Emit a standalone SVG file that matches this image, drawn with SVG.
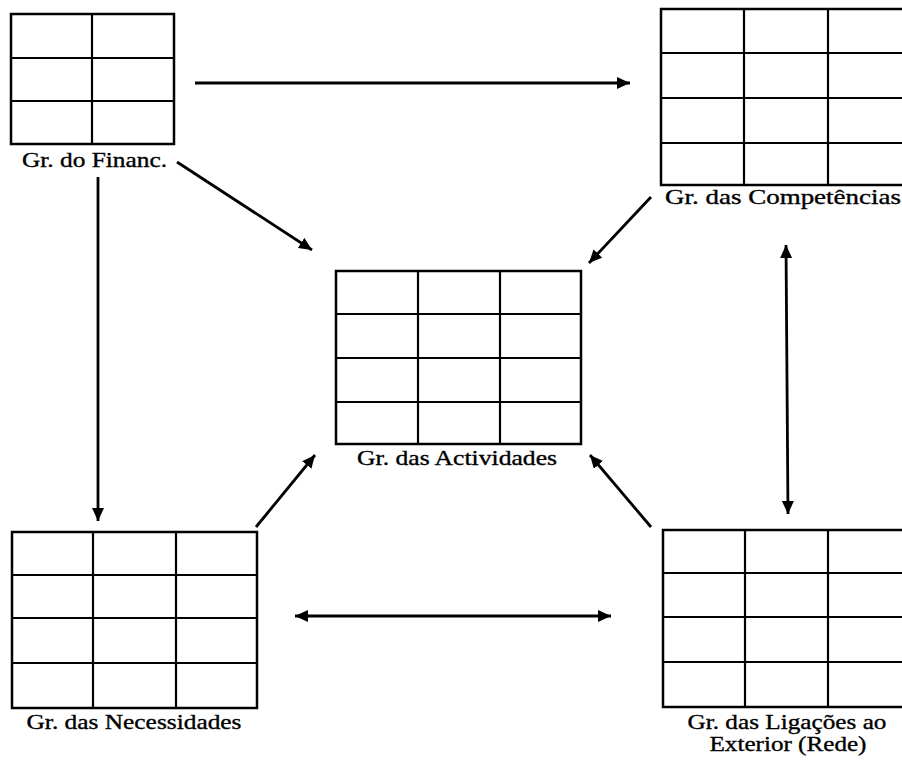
<svg xmlns="http://www.w3.org/2000/svg" width="902" height="762" viewBox="0 0 902 762">
  <style>
    .grid { fill: none; stroke: #000; stroke-width: 2.5; }
    .cell { stroke: #000; stroke-width: 2.2; }
    .lbl { font-family: "Liberation Serif", "Times New Roman", serif; font-size: 21px; fill: #000; stroke: #000; stroke-width: 0.35; text-anchor: middle; }
    .conn { stroke: #000; stroke-width: 2.8; fill: none; }
  </style>
  <defs>
    <marker id="head" markerUnits="userSpaceOnUse" markerWidth="16" markerHeight="14" refX="13" refY="6" orient="auto-start-reverse">
      <path d="M0,0 L13,6 L0,12 Z" fill="#000"/>
    </marker>
  </defs>
  <rect width="902" height="762" fill="#fff"/>

  <!-- Gr. do Financ. : 3 rows x 2 columns -->
  <g id="financ">
    <rect class="grid" x="11" y="14" width="163" height="130"/>
    <line class="cell" x1="92" y1="14" x2="92" y2="144"/>
    <line class="cell" x1="11" y1="58" x2="174" y2="58"/>
    <line class="cell" x1="11" y1="101" x2="174" y2="101"/>
    <text class="lbl" x="94.5" y="167" textLength="145" lengthAdjust="spacingAndGlyphs">Gr. do Financ.</text>
  </g>

  <!-- Gr. das Competências : 4 rows x 3 columns, cut by the right edge -->
  <g id="competencias">
    <rect class="grid" x="661" y="9" width="250" height="176"/>
    <line class="cell" x1="744" y1="9" x2="744" y2="185"/>
    <line class="cell" x1="828" y1="9" x2="828" y2="185"/>
    <line class="cell" x1="661" y1="53" x2="911" y2="53"/>
    <line class="cell" x1="661" y1="98" x2="911" y2="98"/>
    <line class="cell" x1="661" y1="143" x2="911" y2="143"/>
    <text class="lbl" x="783" y="204" textLength="236" lengthAdjust="spacingAndGlyphs">Gr. das Competências</text>
  </g>

  <!-- Gr. das Actividades : centre table -->
  <g id="actividades">
    <rect class="grid" x="336" y="271" width="245" height="173"/>
    <line class="cell" x1="418" y1="271" x2="418" y2="444"/>
    <line class="cell" x1="500" y1="271" x2="500" y2="444"/>
    <line class="cell" x1="336" y1="314" x2="581" y2="314"/>
    <line class="cell" x1="336" y1="358" x2="581" y2="358"/>
    <line class="cell" x1="336" y1="402" x2="581" y2="402"/>
    <text class="lbl" x="457" y="465" textLength="200" lengthAdjust="spacingAndGlyphs">Gr. das Actividades</text>
  </g>

  <!-- Gr. das Necessidades -->
  <g id="necessidades">
    <rect class="grid" x="12" y="532" width="245" height="176"/>
    <line class="cell" x1="93" y1="532" x2="93" y2="708"/>
    <line class="cell" x1="176" y1="532" x2="176" y2="708"/>
    <line class="cell" x1="12" y1="575" x2="257" y2="575"/>
    <line class="cell" x1="12" y1="618" x2="257" y2="618"/>
    <line class="cell" x1="12" y1="663" x2="257" y2="663"/>
    <text class="lbl" x="134" y="729" textLength="215" lengthAdjust="spacingAndGlyphs">Gr. das Necessidades</text>
  </g>

  <!-- Gr. das Ligações ao Exterior (Rede), cut by the right edge -->
  <g id="ligacoes">
    <rect class="grid" x="663" y="530" width="248" height="177"/>
    <line class="cell" x1="745" y1="530" x2="745" y2="707"/>
    <line class="cell" x1="828" y1="530" x2="828" y2="707"/>
    <line class="cell" x1="663" y1="573" x2="911" y2="573"/>
    <line class="cell" x1="663" y1="617" x2="911" y2="617"/>
    <line class="cell" x1="663" y1="662" x2="911" y2="662"/>
    <text class="lbl" x="787" y="729" textLength="199" lengthAdjust="spacingAndGlyphs">Gr. das Ligações ao</text>
    <text class="lbl" x="788" y="751" textLength="157" lengthAdjust="spacingAndGlyphs">Exterior (Rede)</text>
  </g>

  <!-- connectors -->
  <g id="connectors">
    <line class="conn" x1="195" y1="83" x2="630" y2="83" marker-end="url(#head)"/>
    <line class="conn" x1="177" y1="162" x2="312" y2="250" marker-end="url(#head)"/>
    <line class="conn" x1="98" y1="177" x2="98" y2="521" marker-end="url(#head)"/>
    <line class="conn" x1="651" y1="197" x2="589" y2="263" marker-end="url(#head)"/>
    <line class="conn" x1="786" y1="245" x2="788" y2="514" marker-start="url(#head)" marker-end="url(#head)"/>
    <line class="conn" x1="256" y1="527" x2="315" y2="455" marker-end="url(#head)"/>
    <line class="conn" x1="651" y1="527" x2="590" y2="455" marker-end="url(#head)"/>
    <line class="conn" x1="295" y1="616" x2="611" y2="616" marker-start="url(#head)" marker-end="url(#head)"/>
  </g>
</svg>
